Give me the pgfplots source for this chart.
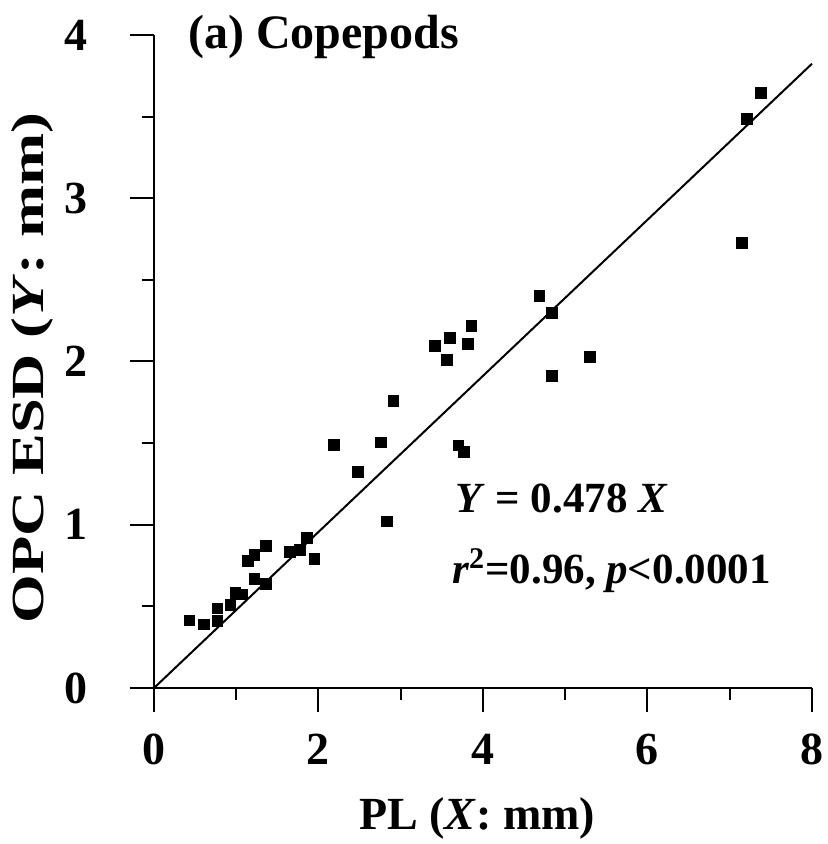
\documentclass[border=0pt]{standalone}
\usepackage{pgfplots}
\pgfplotsset{compat=1.18}
\usepackage{graphicx}
\usepackage{fontspec}
\setmainfont{Liberation Serif}
\newcommand{\fs}{\fontsize{23}{27}\selectfont\bfseries}
\newcommand{\fa}{\fontsize{21.5}{26}\selectfont\bfseries}
\newcommand{\ft}{\fontsize{24}{28}\selectfont\bfseries}
\begin{document}
\begin{tikzpicture}
\path[use as bounding box] (-77pt,-78pt) rectangle (336.5pt,344pt);
\begin{axis}[
  scale only axis,
  width=329pt, height=326.5pt,
  xmin=0, xmax=8, ymin=0, ymax=4,
  axis lines=left,
  axis line style={-, line width=1pt},
  xtick={0,2,4,6,8}, ytick={0,1,2,3,4},
  minor x tick num=1, minor y tick num=1,
  tick align=outside,
  major tick length=12pt, minor tick length=6pt,
  every tick/.style={black, line width=1pt},
  /pgf/number format/assume math mode=true,
  ticklabel style={font=\fs},
  xticklabel style={anchor=north, inner sep=0pt, yshift=-11pt},
  yticklabel style={anchor=east, inner sep=0pt, xshift=-21pt},
  xlabel={PL (\textit{X}: mm)},
  ylabel={\scalebox{1.36}[1]{OPC ESD (\textit{Y}: mm)}},
  label style={font=\fs},
  xlabel style={at={(axis description cs:0.491,-0.216)}, anchor=base, inner sep=0pt},
  ylabel style={at={(axis description cs:-0.184,0.49)}, anchor=center, inner sep=0pt},
  clip=false,
]
\addplot[black, line width=1pt] coordinates {(0,0) (8,3.824)};
\addplot[only marks, mark=square*, mark size=2.7pt, black] coordinates {
(0.43,0.414) (0.61,0.39) (0.77,0.487) (0.77,0.41) (0.93,0.51) (0.99,0.583)
(1.07,0.573) (1.14,0.777) (1.22,0.815) (1.22,0.668) (1.365,0.868) (1.365,0.636)
(1.65,0.834) (1.77,0.848) (1.86,0.92) (1.95,0.79)
(2.19,1.488) (2.476,1.323) (2.756,1.505) (2.83,1.02) (2.91,1.76) (3.42,2.096)
(3.56,2.012) (3.60,2.143) (3.70,1.486) (3.77,1.448) (3.82,2.108) (3.86,2.216)
(4.685,2.40) (4.835,2.30) (4.835,1.913) (5.30,2.03) (7.15,2.726) (7.21,3.484) (7.38,3.643)
};
\node[anchor=base west, inner sep=0pt, font=\ft] at (axis cs:0.413,3.92) {(a) Copepods};
\node[anchor=base west, inner sep=0pt, font=\fa] at (axis cs:3.66,1.0765) {\textit{Y} = 0.478 \textit{X}};
\node[anchor=base west, inner sep=0pt, font=\fa] at (axis cs:3.62,0.64) {\textit{r}\textsuperscript{2}=0.96, \textit{p}<0.0001};
\end{axis}
\end{tikzpicture}
\end{document}
